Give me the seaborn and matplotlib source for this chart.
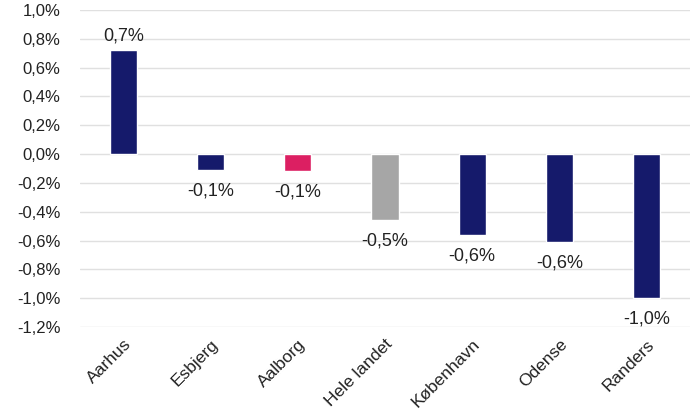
import numpy as np
import pandas as pd
import matplotlib
matplotlib.use("Agg")
import matplotlib.pyplot as plt
import seaborn as sns

# ── Data ──────────────────────────────────────────────────────────────────────
cities = ["Aarhus", "Esbjerg", "Aalborg", "Hele landet", "København", "Odense", "Randers"]
values = [0.72, -0.11, -0.12, -0.46, -0.56, -0.61, -1.00]
labels = ["0,7%", "-0,1%", "-0,1%", "-0,5%", "-0,6%", "-0,6%", "-1,0%"]
bar_colors = ["#151a6b", "#151a6b", "#dc1f62", "#a6a6a6", "#151a6b", "#151a6b", "#151a6b"]

df = pd.DataFrame({"city": cities, "value": values})

sns.set_theme(style="white")
plt.rcParams["font.family"] = ["Liberation Sans", "DejaVu Sans"]

fig = plt.figure(figsize=(7.0, 4.12), dpi=100)
ax = fig.add_axes([80 / 700, 1 - 327 / 412, 610 / 700, 317 / 412])

sns.barplot(data=df, x="city", y="value", hue="city", palette=bar_colors,
            legend=False, width=0.31, ax=ax, saturation=1)

ax.set_ylim(-1.2, 1.0)
ax.set_xlim(-0.5, len(cities) - 0.5)
yt = np.arange(-1.2, 1.01, 0.2)
ax.set_yticks(yt)
ax.set_yticklabels([f"{v:.1f}%".replace(".", ",").replace("-0,0", "0,0") for v in yt],
                   fontsize=12, color="#222222")
ax.yaxis.grid(True, color="#e0e0e0", linewidth=1)
ax.set_axisbelow(True)
for s in ax.spines.values():
    s.set_visible(False)
ax.tick_params(axis="y", length=0, pad=14)
ax.tick_params(axis="x", length=0, pad=7)
ax.set_xlabel("")
ax.set_ylabel("")
ax.set_xticks(range(len(cities)))
ax.set_xticklabels(cities, rotation=45, ha="right", rotation_mode="anchor",
                   fontsize=12.5, color="#222222")

for i, (v, lab) in enumerate(zip(values, labels)):
    if v >= 0:
        ax.annotate(lab, (i, v), xytext=(0, 4), textcoords="offset points",
                    ha="center", va="bottom", fontsize=13, color="#222222")
    else:
        ax.annotate(lab, (i, v), xytext=(0, -9), textcoords="offset points",
                    ha="center", va="top", fontsize=13, color="#222222")

fig.savefig("out.png", dpi=100)
